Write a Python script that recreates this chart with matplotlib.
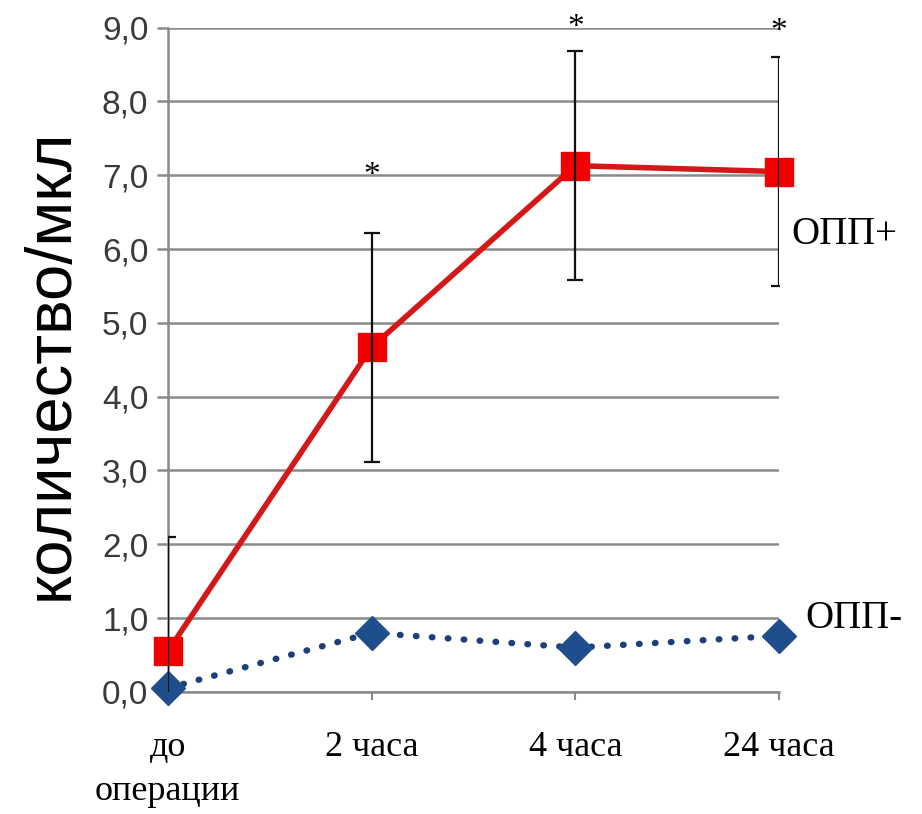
import matplotlib
matplotlib.use('Agg')
import matplotlib.pyplot as plt
import numpy as np

# данные
categories = ['до\nоперации', '2 часа', '4 часа', '24 часа']
opp_plus = [0.55, 4.67, 7.13, 7.05]
opp_plus_err = [1.55, 1.55, 1.55, 1.55]
opp_minus = [0.05, 0.80, 0.60, 0.76]
stars_y = [7.0, 9.0, 8.95]
stars_x = [1, 2, 3]
yticks = [0, 1, 2, 3, 4, 5, 6, 7, 8, 9]
ytick_labels = ['0,0', '1,0', '2,0', '3,0', '4,0', '5,0', '6,0', '7,0', '8,0', '9,0']

x = np.arange(len(categories))
grid_c = '#8a8a8a'

fig = plt.figure(figsize=(9.22, 8.14), dpi=100)
ax = fig.add_axes([0.182, 0.150, 0.663, 0.816])

ax.set_xlim(0, 3)
ax.set_ylim(0, 9)

# сетка
ax.set_yticks(yticks)
ax.set_yticklabels(ytick_labels, fontsize=24, family='Liberation Sans', color='#3a3a3a')
ax.yaxis.grid(True, color=grid_c, lw=1.8)
ax.set_axisbelow(True)
ax.tick_params(axis='y', length=8, width=1.8, color=grid_c, pad=6)

ax.set_xticks(x)
ax.set_xticklabels(categories, fontsize=26, family='Liberation Serif', linespacing=1.45)
ax.tick_params(axis='x', length=6, width=1.5, color=grid_c, pad=22)

for s in ['top', 'right']:
    ax.spines[s].set_visible(False)
ax.spines['left'].set_color(grid_c)
ax.spines['left'].set_linewidth(1.8)
ax.spines['bottom'].set_color(grid_c)
ax.spines['bottom'].set_linewidth(1.8)

# ОПП-
ax.plot(x, opp_minus, color='#1f3f7a', lw=4.6, linestyle=(0, (0.1, 2.4)),
        dash_capstyle='round', marker='D', markersize=17,
        markerfacecolor='#1f4e8c', markeredgecolor='#1f4e8c',
        clip_on=False, zorder=3)

# ОПП+
ax.plot(x, opp_plus, color='#d41818', lw=4, marker='s', markersize=20,
        markerfacecolor='#f20000', markeredgecolor='#f20000',
        clip_on=False, zorder=4)
ax.errorbar(x, opp_plus, yerr=opp_plus_err, fmt='none', ecolor='#111111',
            elinewidth=1.6, capsize=6, capthick=1.6, zorder=5)

for sx, sy in zip(stars_x, stars_y):
    ax.text(sx, sy, '*', ha='center', va='center', fontsize=24,
            family='Liberation Serif', zorder=6)

ax.text(3.06, 6.2, 'ОПП+', ha='left', va='center', fontsize=28,
        family='Liberation Serif', clip_on=False)
ax.text(3.13, 1.0, 'ОПП-', ha='left', va='center', fontsize=28,
        family='Liberation Serif', clip_on=False)

fig.text(0.055, 0.552, 'количество/мкл', rotation=90, ha='center', va='center',
         fontsize=47, family='Liberation Sans')

fig.savefig('out.png', dpi=100)
